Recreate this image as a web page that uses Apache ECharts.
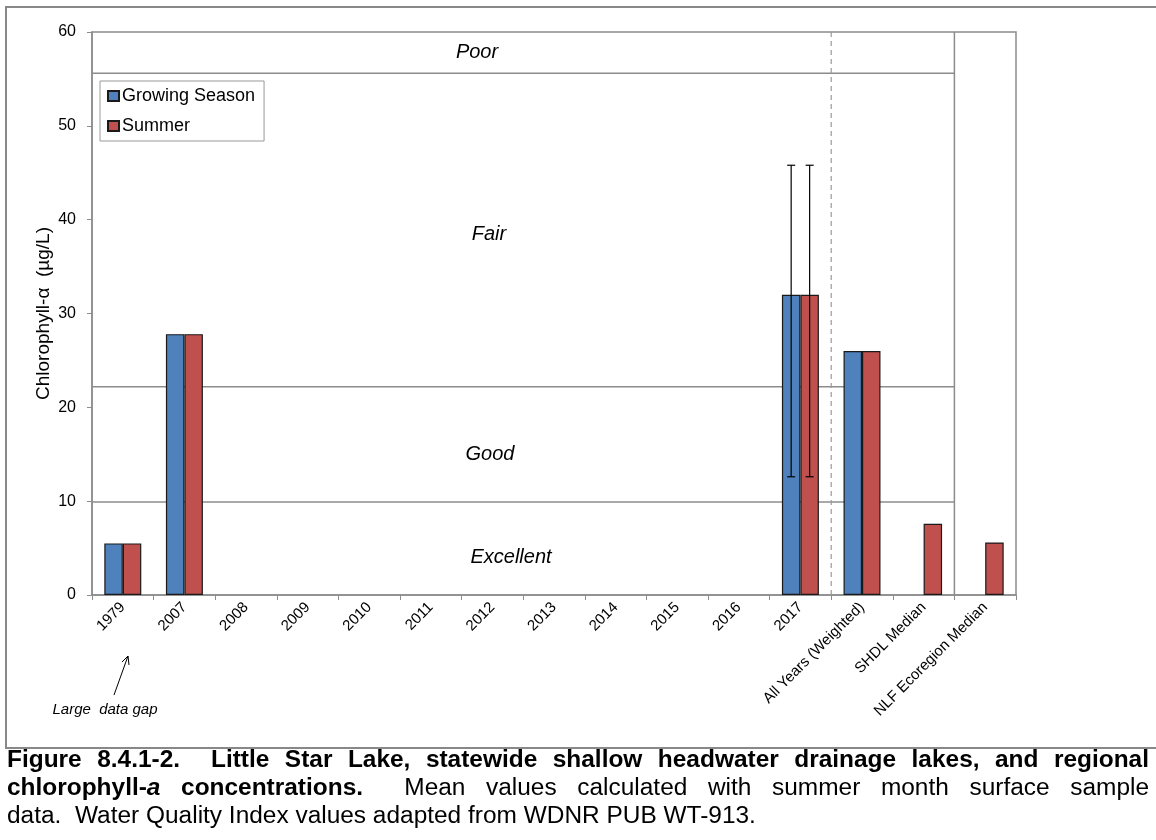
<!DOCTYPE html>
<html>
<head>
<meta charset="utf-8">
<script src="https://cdn.jsdelivr.net/npm/echarts@6/dist/echarts.min.js"></script>
<style>
  html, body { margin: 0; padding: 0; background: #fff; }
  #main { width: 1156px; height: 840px; }
</style>
</head>
<body>
<div id="main"></div>
<script>
// chlorophyll-a, Little Star Lake
var categories = ['1979', '2007', '2008', '2009', '2010', '2011', '2012', '2013', '2014', '2015', '2016', '2017',
    'All Years (Weighted)', 'SHDL Median', 'NLF Ecoregion Median'];
var growingSeason = [5.5, 27.8, null, null, null, null, null, null, null, null, null, 32.0, 26.0, null, null];
var summer = [5.5, 27.8, null, null, null, null, null, null, null, null, null, 32.0, 26.0, 7.6, 5.6];
// error bars: [category index, low, high]
var growingErr = [[11, 12.6, 45.8]];
var summerErr = [[11, 12.6, 45.8]];
// water quality index boundaries (Excellent/Good, Good/Fair, Fair/Poor)
var zoneBounds = [9.9, 22.2, 55.6];
var yTicks = { min: 0, max: 60, interval: 10 };

var FONT = '"Liberation Sans", Arial, sans-serif';
var GRID = { left: 92, top: 32, right: 140, bottom: 245 };

function bandOf(api) { return api.size([1, 0])[0]; }

// horizontal zone lines, from first category to the end of SHDL Median
function renderZone(params, api) {
    var band = bandOf(api);
    var y = api.coord([0, api.value(1)])[1];
    var x0 = api.coord([0, 0])[0] - band / 2;
    var x1 = api.coord([13, 0])[0] + band / 2;
    return { type: 'line', shape: { x1: x0, y1: y, x2: x1, y2: y },
        style: { stroke: '#8c8c8c', lineWidth: 1.5 } };
}

// vertical separators after a category
function renderSep(params, api) {
    var band = bandOf(api);
    var x = api.coord([api.value(0), 0])[0] + band / 2;
    var yTop = api.coord([0, yTicks.max])[1];
    var yBot = api.coord([0, 0])[1];
    var dashed = api.value(2) === 1;
    return { type: 'line', shape: { x1: x, y1: yTop, x2: x, y2: yBot },
        style: { stroke: dashed ? '#999' : '#8c8c8c', lineWidth: dashed ? 1.2 : 1.5, lineDash: dashed ? [5, 4] : null } };
}

function makeErr(sign) {
    return function (params, api) {
        var band = bandOf(api);
        var off = sign * band * 0.3 / 2;
        var cx = api.coord([api.value(0), 0])[0] + off;
        var lo = api.coord([0, api.value(1)])[1];
        var hi = api.coord([0, api.value(2)])[1];
        var cap = 4;
        var st = { stroke: '#000', lineWidth: 1.2 };
        return { type: 'group', children: [
            { type: 'line', shape: { x1: cx, y1: lo, x2: cx, y2: hi }, style: st },
            { type: 'line', shape: { x1: cx - cap, y1: lo, x2: cx + cap, y2: lo }, style: st },
            { type: 'line', shape: { x1: cx - cap, y1: hi, x2: cx + cap, y2: hi }, style: st }
        ] };
    };
}

// caption, justified like the original figure text
var captionLines = [
    { justify: true, segs: [['Figure 8.4.1-2.  Little Star Lake, statewide shallow headwater drainage lakes, and regional', 'b']] },
    { justify: true, segs: [['chlorophyll-', 'b'], ['a', 'bi'], [' concentrations.', 'b'],
        ['  Mean values calculated with summer month surface sample', 'n']] },
    { justify: false, segs: [['data.  Water Quality Index values adapted from WDNR PUB WT-913.', 'n']] }
];
var CAP_SIZE = 23.5;
var CAP_SX = 1.04;
function capFont(s) {
    var f = '';
    if (s.indexOf('i') >= 0) f += 'italic ';
    if (s.indexOf('b') >= 0) f += 'bold ';
    return f + CAP_SIZE + 'px ' + FONT;
}
function buildCaption() {
    var ctx = document.createElement('canvas').getContext('2d');
    var out = [];
    var xL = 7, xR = 1149, y0 = 761, lh = 28;
    captionLines.forEach(function (line, li) {
        var runs = [];
        line.segs.forEach(function (seg) {
            var parts = seg[0].split(/( )/);
            parts.forEach(function (p) {
                if (p === '') return;
                ctx.font = capFont(seg[1]);
                runs.push({ text: p, style: seg[1], space: p === ' ', w: ctx.measureText(p).width * CAP_SX });
            });
        });
        var total = 0, nSpace = 0;
        runs.forEach(function (r) { total += r.w; if (r.space) nSpace++; });
        var extra = line.justify && nSpace ? (xR - xL - total) / nSpace : 0;
        var x = xL;
        runs.forEach(function (r) {
            if (r.space) { x += r.w + extra; return; }
            out.push({ type: 'text', x: x, y: y0 + li * lh, scaleX: CAP_SX,
                style: { text: r.text, font: capFont(r.style), fill: '#000', verticalAlign: 'middle' } });
            x += r.w;
        });
    });
    return out;
}

var italic = function (t, x, y, size) {
    return { type: 'text', x: x, y: y, style: { text: t, font: 'italic ' + size + 'px ' + FONT, fill: '#000',
        align: 'center', verticalAlign: 'middle' } };
};

var graphics = [
    { type: 'rect', shape: { x: 6, y: 7, width: 1160, height: 741 }, style: { fill: null, stroke: '#888', lineWidth: 2 }, z: 100 },
    italic('Poor', 477, 52, 20),
    italic('Fair', 489, 234, 20),
    italic('Good', 490, 454, 20),
    italic('Excellent', 511, 557, 20),
    italic('Large  data gap', 105, 710, 15),
    { type: 'line', shape: { x1: 114, y1: 695, x2: 128, y2: 656 }, style: { stroke: '#000', lineWidth: 1 } },
    { type: 'polyline', shape: { points: [[122, 662], [128, 656], [129, 665]] }, style: { stroke: '#000', lineWidth: 1, fill: null } }
].concat(buildCaption());

var myChart = echarts.init(document.getElementById('main'));
myChart.setOption({
    backgroundColor: '#fff',
    animation: false,
    textStyle: { fontFamily: FONT },
    grid: { left: GRID.left, top: GRID.top, right: GRID.right, bottom: GRID.bottom,
        show: true, borderColor: '#8c8c8c', borderWidth: 1.5 },
    legend: {
        orient: 'vertical', left: 100, top: 81,
        data: ['Growing Season', 'Summer'],
        itemWidth: 11, itemHeight: 10, itemGap: 12,
        padding: [6, 9, 6, 7],
        borderColor: '#999', borderWidth: 1,
        textStyle: { fontSize: 18, color: '#000', padding: [0, 0, 0, -2] },
        icon: 'rect'
    },
    xAxis: {
        type: 'category', data: categories,
        axisLine: { lineStyle: { color: '#8c8c8c', width: 1.5 } },
        axisTick: { show: true, length: 5, lineStyle: { color: '#8c8c8c' } },
        axisLabel: { rotate: 45, fontSize: 15, color: '#000', interval: 0, margin: 10 }
    },
    yAxis: {
        type: 'value', min: yTicks.min, max: yTicks.max, interval: yTicks.interval,
        name: 'Chlorophyll-α  (µg/L)', nameLocation: 'middle', nameGap: 48, nameRotate: 90,
        nameMoveOverlap: false,
        nameTextStyle: { fontSize: 19, color: '#000', align: 'center', verticalAlign: 'middle' },
        axisLine: { show: true, lineStyle: { color: '#8c8c8c', width: 1.5 } },
        axisTick: { show: true, length: 5, lineStyle: { color: '#8c8c8c' } },
        axisLabel: { fontSize: 16, color: '#000', margin: 16 },
        splitLine: { show: false }
    },
    series: [
        { name: 'Growing Season', type: 'bar', data: growingSeason, barGap: '0%', barCategoryGap: '40%',
          itemStyle: { color: '#4f81bd', borderColor: '#1a1a1a', borderWidth: 1.2 }, z: 3 },
        { name: 'Summer', type: 'bar', data: summer, barGap: '0%', barCategoryGap: '40%',
          itemStyle: { color: '#c0504d', borderColor: '#1a1a1a', borderWidth: 1.2 }, z: 3 },
        { type: 'custom', renderItem: renderZone, data: zoneBounds.map(function (v) { return [0, v]; }),
          encode: { x: 0, y: 1 }, z: 1, silent: true },
        { type: 'custom', renderItem: renderSep, data: [[11, 0, 1], [13, 0, 0]],
          encode: { x: 0, y: 1 }, z: 1, silent: true },
        { type: 'custom', renderItem: makeErr(-1), data: growingErr, encode: { x: 0, y: [1, 2] }, z: 5, silent: true },
        { type: 'custom', renderItem: makeErr(1), data: summerErr, encode: { x: 0, y: [1, 2] }, z: 5, silent: true }
    ],
    graphic: graphics
});
</script>
</body>
</html>
